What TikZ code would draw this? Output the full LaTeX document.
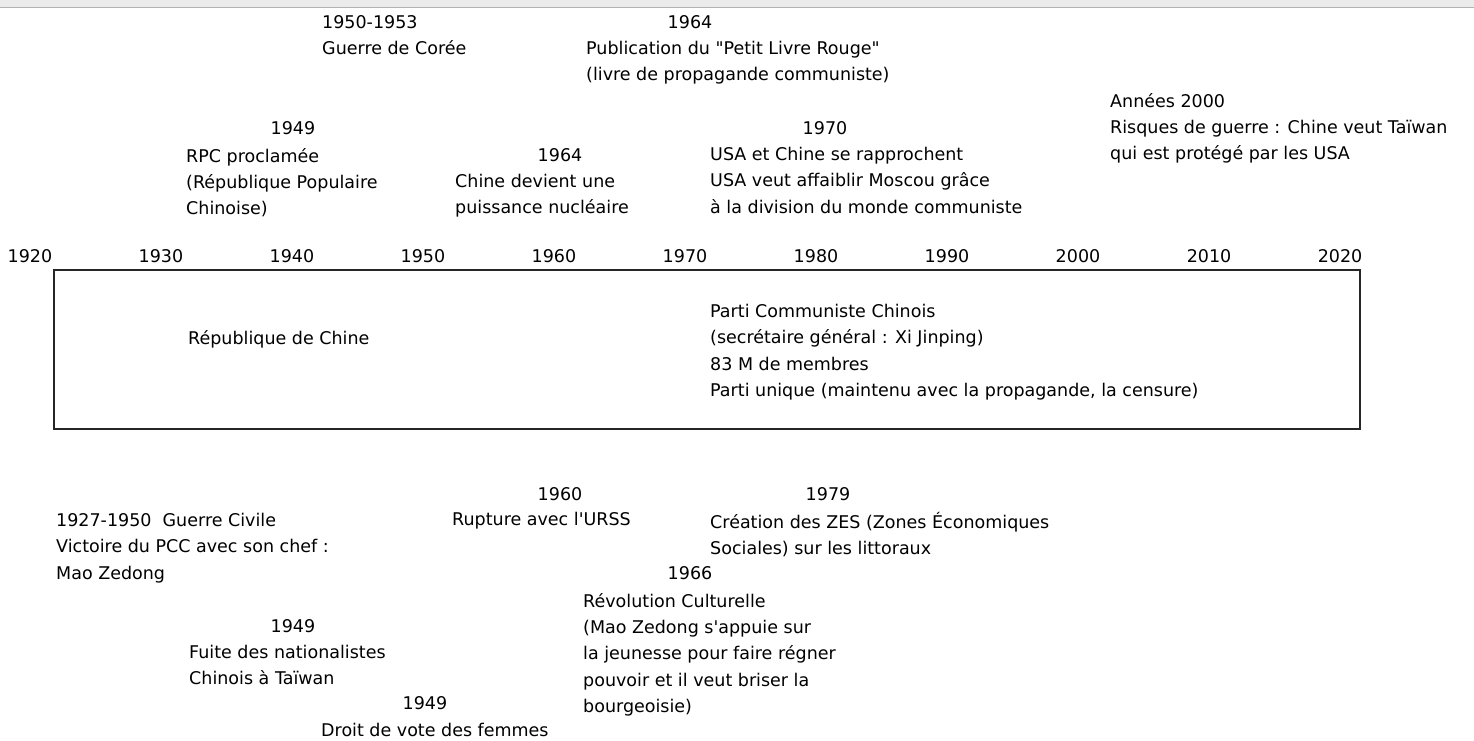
\documentclass[tikz,border=0pt]{standalone}
\usepackage{fontspec}
\newfontfamily\tlfont{DejaVu Sans}
\tikzset{
   txt/.style={font=\tlfont\fontsize{17.5}{26.2}\selectfont, inner sep=0pt, align=left,
      anchor=north west, yshift=12.8pt, execute at begin node=\strut},
   yr/.style={font=\tlfont\fontsize{17.5}{26.2}\selectfont, inner sep=0pt, anchor=base},
   single/.style={yr, anchor=base west},
   frame/.style={line width=1.5pt, black!85}
}
\newcommand{\event}[5]{
   \node[yr] (#1yr) at (#2) {#3};
   \node[txt] (#1) at (#4) {#5};
}

\begin{document}
\begin{tikzpicture}[x=1pt, y=-1pt]

		\useasboundingbox (0,0) rectangle (1474,740);

		% Top band
		\fill[black!8] (0,0) rectangle (1474,7);
		\draw[black!30] (0,7.5) -- (1474,7.5);

		% Events above
		\node[txt] (coree) at (322,28) {1950-1953\\Guerre de Corée};
		\event{livre}{690,28}{1964}{586,54}{Publication du "Petit Livre Rouge"\\(livre de propagande communiste)}
		\event{rpc}{293,134}{1949}{186,161}{RPC proclamée\\(République Populaire\\Chinoise)}
		\event{nucl}{560,161}{1964}{455,187}{Chine devient une\\puissance nucléaire}
		\event{usa}{825,134}{1970}{710,160}{USA et Chine se rapprochent\\USA veut affaiblir Moscou grâce\\à la division du monde communiste}
		\node[txt] (taiwan) at (1110,106) {Années 2000\\Risques de guerre : Chine veut Taïwan\\qui est protégé par les USA};

		% Axis
		\foreach \yy [count=\i from 0] in {1920,1930,...,2020}
			\node[yr] (t\yy) at ({30+131*\i},262) {\yy};

		% Regimes
		\draw[frame] (54,270) rectangle (1360,429);
		\node[single] (roc) at (188,344) {République de Chine};
		\node[txt] (pcc) at (710,317) {Parti Communiste Chinois\\(secrétaire général : Xi Jinping)\\83 M de membres\\Parti unique (maintenu avec la propagande, la censure)};

		% Events below
		\node[txt] (civile) at (56,526) {1927-1950\ \ Guerre Civile\\Victoire du PCC avec son chef :\\Mao Zedong};
		\node[yr] (urssyr) at (560,500) {1960};
		\node[single] (urss) at (452,525) {Rupture avec l'URSS};
		\event{zes}{828,500}{1979}{710,525}{Création des ZES (Zones Économiques\\Sociales) sur les littoraux}
		\event{revo}{690,579}{1966}{583,606}{Révolution Culturelle\\(Mao Zedong s'appuie sur\\la jeunesse pour faire régner\\pouvoir et il veut briser la\\bourgeoisie)}
		\event{fuite}{293,632}{1949}{189,658}{Fuite des nationalistes\\Chinois à Taïwan}
		\node[yr] (voteyr) at (425,709) {1949};
		\node[single] (vote) at (321,736) {Droit de vote des femmes};

	\end{tikzpicture}
\end{document}
